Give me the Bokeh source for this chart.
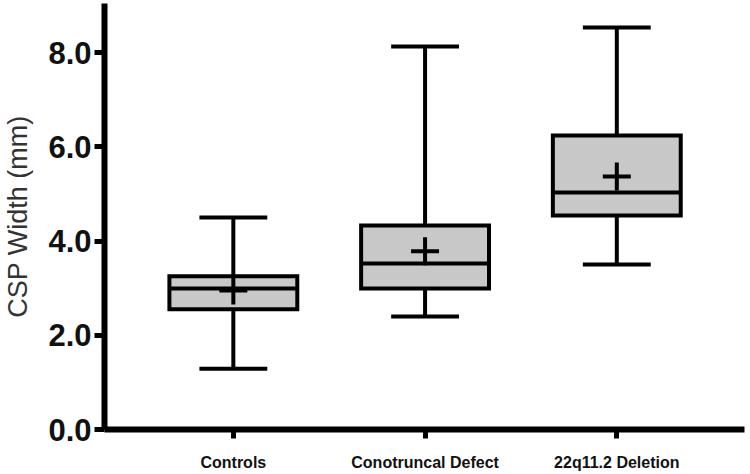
from bokeh.plotting import figure
from bokeh.models import Range1d, FixedTicker, NumeralTickFormatter, ColumnDataSource
from bokeh.embed import file_html
from bokeh.resources import INLINE

# ---- data ----
groups = ["Controls", "Conotruncal Defect", "22q11.2 Deletion"]
positions = [1, 2, 3]
whisker_low = [1.29, 2.40, 3.50]
q1 = [2.55, 2.99, 4.54]
median = [2.99, 3.52, 5.03]
q3 = [3.25, 4.33, 6.24]
whisker_high = [4.50, 8.13, 8.53]
mean = [2.95, 3.78, 5.37]
y_ticks = [0, 2, 4, 6, 8]

BOX_W = 0.667
CAP_W = 0.354

src = ColumnDataSource(dict(
    x=positions, low=whisker_low, q1=q1, med=median, q3=q3, high=whisker_high, mean=mean,
    xl=[x - BOX_W / 2 for x in positions], xr=[x + BOX_W / 2 for x in positions],
    cl=[x - CAP_W / 2 for x in positions], cr=[x + CAP_W / 2 for x in positions],
))

p = figure(width=746, height=474, output_backend="svg", toolbar_location=None,
           x_range=Range1d(0.328, 3.666), y_range=Range1d(0, 9.04),
           min_border_left=103, min_border_right=2, min_border_top=3, min_border_bottom=45)
p.outline_line_color = None
p.xgrid.visible = False
p.ygrid.visible = False
p.background_fill_color = "white"

LW = 4
# whiskers
p.segment(x0="x", y0="q3", x1="x", y1="high", source=src, line_color="black", line_width=LW)
p.segment(x0="x", y0="low", x1="x", y1="q1", source=src, line_color="black", line_width=LW)
p.segment(x0="cl", y0="high", x1="cr", y1="high", source=src, line_color="black", line_width=LW)
p.segment(x0="cl", y0="low", x1="cr", y1="low", source=src, line_color="black", line_width=LW)
# boxes
p.vbar(x="x", width=BOX_W, bottom="q1", top="q3", source=src,
       fill_color="#c8c8c8", line_color="black", line_width=LW, line_join="miter")
# median
p.segment(x0="xl", y0="med", x1="xr", y1="med", source=src, line_color="black", line_width=LW)
# mean
p.scatter(x="x", y="mean", source=src, marker="cross", size=28,
          line_color="black", line_width=LW)

# axes
for ax in (p.xaxis[0], p.yaxis[0]):
    ax.axis_line_width = 6
    ax.axis_line_color = "black"
    ax.major_tick_line_width = 5
    ax.major_tick_line_color = "black"
    ax.minor_tick_line_color = None
    ax.major_tick_in = 0

p.xaxis.ticker = FixedTicker(ticks=positions)
p.xaxis.major_label_overrides = {pos: g for pos, g in zip(positions, groups)}
p.xaxis.major_tick_out = 9
p.xaxis.major_label_standoff = 15
p.xaxis.major_label_text_font = "Liberation Sans"
p.xaxis.major_label_text_font_style = "bold"
p.xaxis.major_label_text_font_size = "16px"
p.xaxis.major_label_text_color = "#111111"

p.yaxis.ticker = FixedTicker(ticks=y_ticks)
p.yaxis.formatter = NumeralTickFormatter(format="0.0")
p.yaxis.major_tick_out = 10
p.yaxis.major_label_standoff = 3
p.yaxis.major_label_text_font = "Liberation Sans"
p.yaxis.major_label_text_font_style = "bold"
p.yaxis.major_label_text_font_size = "31px"
p.yaxis.major_label_text_color = "#111111"
p.yaxis.axis_label = "CSP Width (mm)"
p.yaxis.axis_label_text_font = "Liberation Sans"
p.yaxis.axis_label_text_font_style = "normal"
p.yaxis.axis_label_text_font_size = "27px"
p.yaxis.axis_label_text_color = "#333333"
p.yaxis.axis_label_standoff = 12

open("out.html", "w").write(file_html(p, INLINE))
